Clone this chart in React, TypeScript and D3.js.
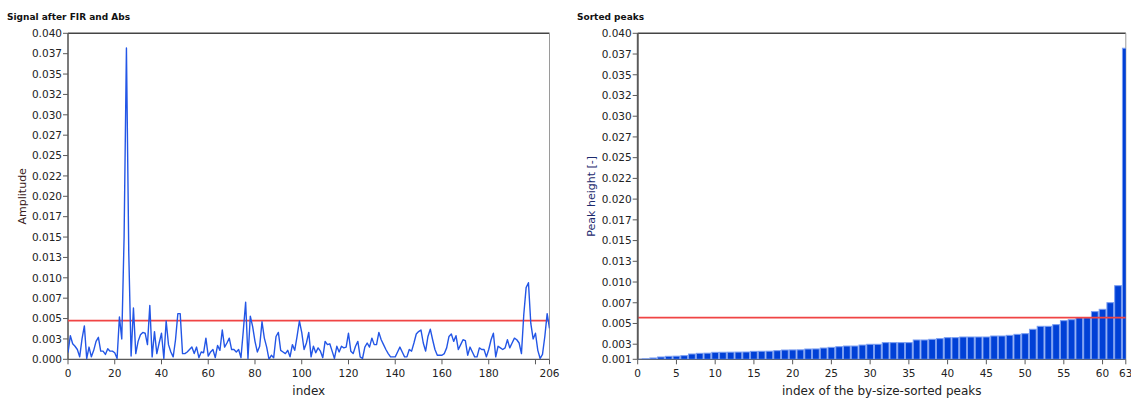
import React from "react";
import * as d3 from "d3";

// ---------- data ----------
const signalTitle = "Signal after FIR and Abs";
const peaksTitle = "Sorted peaks";

// |FIR output| for indices 0..206
const signalValues = [
  0.0008, 0.0029, 0.0019, 0.0016, 0.0012, 0.0003, 0.0025, 0.0041, 0.0001, 0.0015,
  0.0003, 0.0011, 0.0022, 0.0027, 0.0010, 0.0010, 0.0006, 0.0013, 0.0010, 0.0010,
  0.0008, 0.0001, 0.0052, 0.0025, 0.0150, 0.0382, 0.0130, 0.0004, 0.0063, 0.0007,
  0.0022, 0.0030, 0.0033, 0.0032, 0.0018, 0.0066, 0.0003, 0.0034, 0.0007, 0.0020,
  0.0032, 0.0001, 0.0047, 0.0018, 0.0009, 0.0003, 0.0024, 0.0056, 0.0056, 0.0007,
  0.0007, 0.0009, 0.0012, 0.0015, 0.0007, 0.0015, 0.0002, 0.0009, 0.0008, 0.0026,
  0.0004, 0.0009, 0.0012, 0.0002, 0.0017, 0.0011, 0.0036, 0.0015, 0.0020, 0.0026,
  0.0012, 0.0012, 0.0009, 0.0012, 0.0002, 0.0035, 0.0070, 0.0001, 0.0053, 0.0040,
  0.0022, 0.0009, 0.0016, 0.0046, 0.0026, 0.0015, 0.0000, 0.0005, 0.0002, 0.0028,
  0.0033, 0.0011, 0.0009, 0.0007, 0.0011, 0.0003, 0.0018, 0.0011, 0.0028, 0.0047,
  0.0033, 0.0012, 0.0020, 0.0033, 0.0003, 0.0016, 0.0008, 0.0014, 0.0010, 0.0002,
  0.0022, 0.0018, 0.0019, 0.0010, 0.0001, 0.0016, 0.0009, 0.0016, 0.0014, 0.0015,
  0.0032, 0.0010, 0.0007, 0.0016, 0.0022, 0.0003, 0.0001, 0.0015, 0.0020, 0.0015,
  0.0026, 0.0018, 0.0018, 0.0033, 0.0024, 0.0018, 0.0012, 0.0007, 0.0003, 0.0003,
  0.0003, 0.0009, 0.0015, 0.0009, 0.0003, 0.0003, 0.0012, 0.0010, 0.0020, 0.0031,
  0.0034, 0.0036, 0.0020, 0.0010, 0.0028, 0.0037, 0.0024, 0.0012, 0.0005, 0.0005,
  0.0005, 0.0007, 0.0014, 0.0028, 0.0031, 0.0022, 0.0029, 0.0012, 0.0018, 0.0024,
  0.0023, 0.0005, 0.0015, 0.0009, 0.0003, 0.0003, 0.0014, 0.0012, 0.0012, 0.0003,
  0.0012, 0.0024, 0.0032, 0.0003, 0.0016, 0.0014, 0.0012, 0.0014, 0.0024, 0.0014,
  0.0020, 0.0026, 0.0024, 0.0020, 0.0007, 0.0055, 0.0088, 0.0094, 0.0044, 0.0025,
  0.0032, 0.0011, 0.0001, 0.0006, 0.0028, 0.0056, 0.0038,
];
const signalThreshold = 0.00474;

// sorted peak heights, index 0..63
const sortedPeaks = [
  0.00069, 0.00074, 0.00084, 0.00096, 0.00104, 0.00106, 0.00112, 0.00132, 0.00140, 0.00142,
  0.00152, 0.00153, 0.00154, 0.00155, 0.00156, 0.00164, 0.00165, 0.00166, 0.00172, 0.00180,
  0.00181, 0.00182, 0.00192, 0.00193, 0.00204, 0.00212, 0.00220, 0.00228, 0.00228, 0.00240,
  0.00249, 0.00249, 0.00269, 0.00269, 0.00269, 0.00269, 0.00301, 0.00301, 0.00309, 0.00317,
  0.00329, 0.00329, 0.00337, 0.00337, 0.00337, 0.00337, 0.00349, 0.00349, 0.00357, 0.00369,
  0.00377, 0.00430, 0.00466, 0.00466, 0.00486, 0.00534, 0.00546, 0.00570, 0.00570, 0.00643,
  0.00671, 0.00751, 0.00956, 0.03820,
];
const peaksThreshold = 0.0057;
const peaksAxisMin = 0.00068;

// axis ticks
const yTickValues = [
  0, 0.0025, 0.005, 0.0075, 0.01, 0.0125, 0.015, 0.0175, 0.02, 0.0225,
  0.025, 0.0275, 0.03, 0.0325, 0.035, 0.0375, 0.04,
];
const yTickLabels = [
  "0.000", "0.003", "0.005", "0.007", "0.010", "0.013", "0.015", "0.017", "0.020", "0.022",
  "0.025", "0.027", "0.030", "0.032", "0.035", "0.037", "0.040",
];
const peaksYTickLabels = [
  "0.001", "0.003", "0.005", "0.007", "0.010", "0.013", "0.015", "0.017", "0.020", "0.022",
  "0.025", "0.027", "0.030", "0.032", "0.035", "0.037", "0.040",
];
const signalXTicks = [0, 20, 40, 60, 80, 100, 120, 140, 160, 180, 200, 206];
const signalXLabels = ["0", "20", "40", "60", "80", "100", "120", "140", "160", "180", "", "206"];
const peaksXTicks = [0, 5, 10, 15, 20, 25, 30, 35, 40, 45, 50, 55, 60, 63];
const peaksXLabels = ["0", "5", "10", "15", "20", "25", "30", "35", "40", "45", "50", "55", "60", "63"];

// ---------- styling ----------
const FONT = "'DejaVu Sans', Verdana, sans-serif";
const AXIS = "#5a5a5a";
const TXT = "#222";
const LINE_BLUE = "#2356e6";
const BAR_BLUE = "#0040d6";
const BAR_EDGE = "#7a9ef2";
const RED = "#f04444";

type Frame = { left: number; right: number; top: number; bottom: number };

function Axes({
  f,
  x,
  y,
  xTicks,
  xLabels,
  yTicks,
  yLabels,
  xTitle,
  yTitle,
  yTitleX,
  title,
  titleX,
  clipId,
}: any) {
  return (
    <g>
      <text x={titleX} y={20} fontFamily={FONT} fontWeight="bold" fontSize={9} fill="#111">
        {title}
      </text>
      {/* frame */}
      <line x1={f.left} x2={f.right} y1={f.top} y2={f.top} stroke="#444" strokeWidth={1.5} />
      <line x1={f.right} x2={f.right} y1={f.top} y2={f.bottom} stroke="#9a9a9a" strokeWidth={1} />
      <line x1={f.left} x2={f.left} y1={f.top} y2={f.bottom} stroke={AXIS} strokeWidth={1.6} />
      <line x1={f.left} x2={f.right} y1={f.bottom} y2={f.bottom} stroke={AXIS} strokeWidth={1.2} />
      {yTicks.map((v: number, i: number) => (
        <g key={"y" + i}>
          <line x1={f.left - 5} x2={f.left} y1={y(v)} y2={y(v)} stroke={AXIS} strokeWidth={1} />
          <text
            x={f.left - 6}
            y={y(v)}
            dy="0.36em"
            textAnchor="end"
            fontFamily={FONT}
            fontSize={10.5}
            fill={TXT}
          >
            {yLabels[i]}
          </text>
        </g>
      ))}
      {xTicks.map((v: number, i: number) => (
        <g key={"x" + i}>
          <line x1={x(v)} x2={x(v)} y1={f.bottom} y2={f.bottom + 5} stroke={AXIS} strokeWidth={1} />
          <text
            x={x(v)}
            y={f.bottom + 18}
            textAnchor="middle"
            fontFamily={FONT}
            fontSize={10.5}
            fill={TXT}
          >
            {xLabels[i]}
          </text>
        </g>
      ))}
      <text
        x={(f.left + f.right) / 2}
        y={394.5}
        textAnchor="middle"
        fontFamily={FONT}
        fontSize={12}
        fill={TXT}
      >
        {xTitle}
      </text>
      <text
        transform={`translate(${yTitleX},${(f.top + f.bottom) / 2}) rotate(-90)`}
        textAnchor="middle"
        fontFamily={FONT}
        fontSize={11}
        fill={yTitle.color}
      >
        {yTitle.text}
      </text>
      <clipPath id={clipId}>
        <rect x={f.left} y={f.top} width={f.right - f.left} height={f.bottom - f.top} />
      </clipPath>
    </g>
  );
}

export default function App() {
  const fL: Frame = { left: 68, right: 549.5, top: 33.3, bottom: 359.3 };
  const fR: Frame = { left: 637.7, right: 1125.8, top: 33.3, bottom: 359.3 };

  const xL = d3.scaleLinear().domain([0, signalValues.length - 1]).range([fL.left, fL.right]);
  const yL = d3.scaleLinear().domain([0, 0.04]).range([fL.bottom, fL.top]);
  const lineGen = d3
    .line<number>()
    .x((_, i) => xL(i))
    .y((d) => yL(d));

  const xR = d3.scaleLinear().domain([0, sortedPeaks.length - 1]).range([fR.left, fR.right]);
  const yR = d3.scaleLinear().domain([peaksAxisMin, 0.04]).range([fR.bottom, fR.top]);
  const peaksYTicks = [peaksAxisMin, ...yTickValues.slice(1)];
  const bw = xR(1) - xR(0);

  return (
    <svg
      width={1131}
      height={399}
      style={{ position: "absolute", left: 0, top: 0, background: "#fff" }}
    >
      <rect x={0} y={0} width={1131} height={399} fill="#fff" />
      {/* Left chart */}
      <Axes
        f={fL}
        x={xL}
        y={yL}
        xTicks={signalXTicks}
        xLabels={signalXLabels}
        yTicks={yTickValues}
        yLabels={yTickLabels}
        xTitle="index"
        yTitle={{ text: "Amplitude", color: "#3a2020" }}
        yTitleX={26}
        title={signalTitle}
        titleX={7}
        clipId="clipL"
      />
      <g clipPath="url(#clipL)">
        <line
          x1={fL.left}
          x2={fL.right}
          y1={yL(signalThreshold)}
          y2={yL(signalThreshold)}
          stroke={RED}
          strokeWidth={1.8}
        />
        <path
          d={lineGen(signalValues) || ""}
          fill="none"
          stroke={LINE_BLUE}
          strokeWidth={1.4}
          strokeLinejoin="round"
        />
      </g>

      {/* Right chart */}
      <Axes
        f={fR}
        x={xR}
        y={yR}
        xTicks={peaksXTicks}
        xLabels={peaksXLabels}
        yTicks={peaksYTicks}
        yLabels={peaksYTickLabels}
        xTitle="index of the by-size-sorted peaks"
        yTitle={{ text: "Peak height [-]", color: "#1c2a6e" }}
        yTitleX={595}
        title={peaksTitle}
        titleX={577}
        clipId="clipR"
      />
      <g clipPath="url(#clipR)">
        {sortedPeaks.map((v, i) => (
          <rect
            key={i}
            x={xR(i) - bw / 2 + 0.5}
            y={yR(v)}
            width={bw - 1}
            height={Math.max(0, fR.bottom - yR(v))}
            fill={BAR_BLUE}
            stroke={BAR_EDGE}
            strokeWidth={1}
          />
        ))}
        <line
          x1={fR.left}
          x2={fR.right}
          y1={yR(peaksThreshold)}
          y2={yR(peaksThreshold)}
          stroke={RED}
          strokeWidth={1.8}
        />
      </g>
      <line x1={fR.left} x2={fR.left} y1={fR.top} y2={fR.bottom} stroke={AXIS} strokeWidth={1.6} />
    </svg>
  );
}
